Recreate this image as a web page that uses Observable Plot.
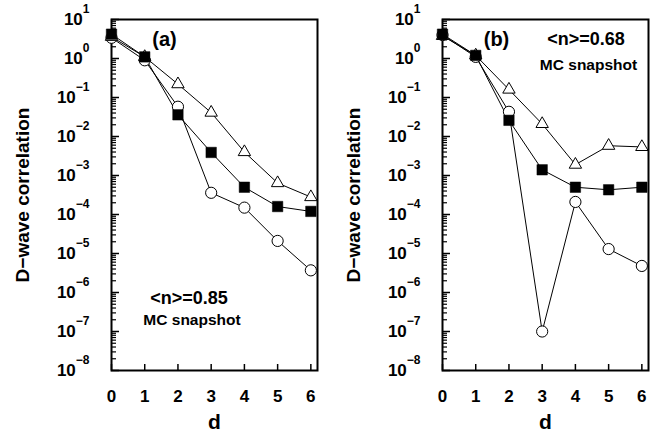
<!DOCTYPE html>
<html><head><meta charset="utf-8">
<script src="https://cdn.jsdelivr.net/npm/d3@7"></script>
<script src="https://cdn.jsdelivr.net/npm/@observablehq/plot@0.6"></script>
<style>
body{margin:0;background:#fff;}
#wrap{display:flex;width:657px;height:435px;}
#wrap svg{font-family:"Liberation Sans",Arial,sans-serif;font-weight:bold;overflow:visible;}
</style></head><body><div id="wrap"></div>
<script>
// distance d
const distances = [0, 1, 2, 3, 4, 5, 6];
// panel (a) <n>=0.85
const aSquares   = [4.2, 1.1, 0.036, 0.0039, 5.0e-4, 1.6e-4, 1.2e-4];
const aTriangles = [3.6, 1.1, 0.22, 0.041, 0.0040, 6.4e-4, 2.8e-4];
const aCircles   = [3.4, 0.9, 0.058, 3.6e-4, 1.5e-4, 2.1e-5, 3.7e-6];
// panel (b) <n>=0.68
const bSquares   = [4.2, 1.2, 0.026, 0.0014, 5.0e-4, 4.3e-4, 5.0e-4];
const bTriangles = [3.8, 1.2, 0.16, 0.021, 0.0019, 0.0058, 0.0054];
const bCircles   = [4.0, 1.1, 0.043, 1.0e-7, 2.1e-4, 1.3e-5, 4.8e-6];
// ticks
const xTicks = [0, 1, 2, 3, 4, 5, 6];
const yExponents = [-8, -7, -6, -5, -4, -3, -2, -1, 0, 1];
const yTitle = "D\u2212wave correlation";
const xTitle = "d";
const panelLabels = ["(a)", "(b)"];
const densityLabels = ["<n>=0.85", "<n>=0.68"];
const snapshotLabel = "MC snapshot";

const yMajor = yExponents.map(e => Math.pow(10, e));
const yMinor = [];
for (const e of yExponents.slice(0, -1)) for (let k = 2; k <= 9; k++) yMinor.push(k * Math.pow(10, e));

function rows(vals) { return distances.map((d, i) => ({d, v: vals[i]})); }

const H = 435, MT = 19, MB = 65;

function panel({width, marginLeft, marginRight, sq, tr, ci, label, density, labelPos}) {
  const S = rows(sq), T = rows(tr), C = rows(ci);
  const pw = width - marginLeft - marginRight, ph = H - MT - MB;
  const plot = Plot.plot({
    width, height: H,
    marginLeft, marginRight, marginTop: MT, marginBottom: MB,
    x: {domain: [0, 6.2]},
    y: {type: "log", domain: [1e-8, 10]},
    style: {fontFamily: "Liberation Sans, Arial, sans-serif", fontWeight: "bold", color: "black"},
    marks: [
      // inward ticks
      Plot.tickY(yMinor, {y: d => d, insetRight: pw - 5, stroke: "black", strokeWidth: 1.2}),
      Plot.tickY(yMajor, {y: d => d, insetRight: pw - 8, stroke: "black", strokeWidth: 1.5}),
      Plot.tickX(xTicks, {x: d => d, insetTop: ph - 6, stroke: "black", strokeWidth: 1.5}),
      Plot.axisY(yMajor, {tickSize: 0, tickPadding: 22, fontSize: 17, tickFormat: d => "10|" + String(Math.round(Math.log10(d))).replace("-", "\u2212"), label: null}),
      Plot.axisX(xTicks, {tickSize: 0, tickPadding: 19, fontSize: 17, tickFormat: d => String(d), label: null}),
      Plot.frame({stroke: "black", strokeWidth: 2}),
      Plot.line(C, {x: "d", y: "v", stroke: "black", strokeWidth: 1}),
      Plot.line(T, {x: "d", y: "v", stroke: "black", strokeWidth: 1}),
      Plot.line(S, {x: "d", y: "v", stroke: "black", strokeWidth: 1}),
      Plot.dot(C, {x: "d", y: "v", symbol: "circle", r: 5.6, fill: "white", stroke: "black", strokeWidth: 1}),
      Plot.dot(T, {x: "d", y: "v", symbol: "triangle", r: 4.6, fill: "white", stroke: "black", strokeWidth: 1}),
      Plot.dot(S, {x: "d", y: "v", symbol: "square", r: 5.9, fill: "black", stroke: "black", strokeWidth: 0.5}),
      Plot.text([yTitle], {frameAnchor: "left", rotate: -90, dx: -89, fontSize: 19, textAnchor: "middle", lineAnchor: "middle"}),
      Plot.text([xTitle], {frameAnchor: "bottom", dy: 52, fontSize: 21, textAnchor: "middle", lineAnchor: "middle"}),
      Plot.text([label], {frameAnchor: "top-left", dx: labelPos.lx, dy: labelPos.ly, fontSize: 20, textAnchor: "middle", lineAnchor: "middle"}),
      Plot.text([density], {frameAnchor: labelPos.anchor, dx: labelPos.nx, dy: labelPos.ny, fontSize: 18, textAnchor: "middle", lineAnchor: "middle"}),
      Plot.text([snapshotLabel], {frameAnchor: labelPos.anchor, dx: labelPos.mx, dy: labelPos.my, fontSize: 15.5, textAnchor: "middle", lineAnchor: "middle"})
    ]
  });
  // superscript exponents
  plot.querySelectorAll('g[aria-label="y-axis tick label"] text').forEach(t => {
    const [base, exp] = t.textContent.split("|");
    if (exp === undefined) return;
    t.textContent = "";
    const ns = "http://www.w3.org/2000/svg";
    const b = document.createElementNS(ns, "tspan"); b.textContent = base; t.appendChild(b);
    const e = document.createElementNS(ns, "tspan"); e.textContent = exp;
    e.setAttribute("dy", "-12"); e.setAttribute("font-size", "12"); t.appendChild(e);
  });
  return plot;
}

const wrap = document.getElementById("wrap");
wrap.appendChild(panel({width: 328, marginLeft: 111, marginRight: 11, sq: aSquares, tr: aTriangles, ci: aCircles,
  label: panelLabels[0], density: densityLabels[0],
  labelPos: {lx: 53, ly: 20, anchor: "bottom-left", nx: 77.5, ny: -72, mx: 80.5, my: -50}}));
wrap.appendChild(panel({width: 329, marginLeft: 114, marginRight: 9, sq: bSquares, tr: bTriangles, ci: bCircles,
  label: panelLabels[1], density: densityLabels[1],
  labelPos: {lx: 54, ly: 20, anchor: "top-left", nx: 143.5, ny: 20, mx: 146, my: 45.5}}));
</script></body></html>
